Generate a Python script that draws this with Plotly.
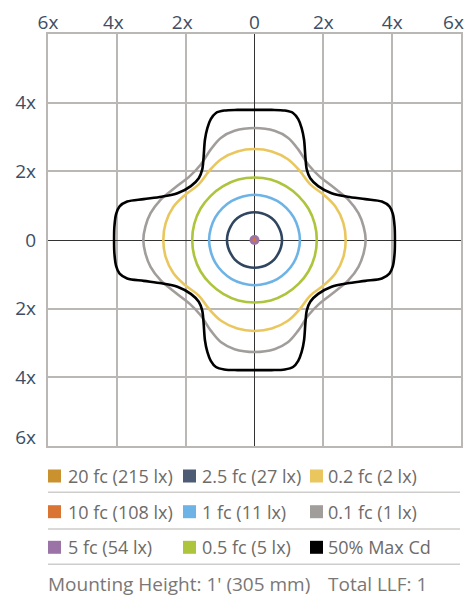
import plotly.graph_objects as go

# ---- Data (upper-right quadrant of each isofootcandle contour, in mounting heights) ----
black_x = [0.0, 0.5, 0.88, 1.12, 1.27, 1.37, 1.44, 1.48, 1.52, 1.62, 1.85, 2.24, 2.7, 3.22, 3.7, 3.92, 4.02, 4.07, 4.08]
black_y = [3.79, 3.79, 3.77, 3.70, 3.52, 3.26, 2.92, 2.40, 2.05, 1.80, 1.57, 1.36, 1.26, 1.19, 1.12, 0.98, 0.76, 0.40, 0.0]

gray_x = [0.0, 0.58, 0.97, 1.27, 1.56, 1.88, 2.34, 2.73, 3.02, 3.17, 3.23]
gray_y = [3.26, 3.18, 2.98, 2.64, 2.20, 1.86, 1.50, 1.17, 0.78, 0.39, 0.0]

yellow_x = [0.0, 0.50, 0.96, 1.31, 1.62, 2.02, 2.36, 2.58, 2.65]
yellow_y = [2.65, 2.58, 2.36, 2.02, 1.62, 1.31, 0.96, 0.50, 0.0]

green_x = [0.0, 0.47, 0.91, 1.28, 1.57, 1.75, 1.81]
green_y = [1.82, 1.76, 1.57, 1.28, 0.91, 0.47, 0.0]

blue_x = [0.0, 0.34, 0.66, 0.93, 1.14, 1.27, 1.32]
blue_y = [1.32, 1.27, 1.14, 0.93, 0.66, 0.34, 0.0]

navy_x = [0.0, 0.21, 0.4, 0.57, 0.69, 0.77, 0.8]
navy_y = [0.81, 0.78, 0.7, 0.57, 0.4, 0.21, 0.0]

legend_labels = ["20 fc (215 lx)", "2.5 fc (27 lx)", "0.2 fc (2 lx)",
                 "10 fc (108 lx)", "1 fc (11 lx)", "0.1 fc (1 lx)",
                 "5 fc (54 lx)", "0.5 fc (5 lx)", "50% Max Cd"]
legend_colors = ["#c9922e", "#4d5c74", "#eac75e",
                 "#d97433", "#6db3e6", "#a19d9b",
                 "#9c73a6", "#adc43d", "#000000"]

grid_vals = [-6, -4, -2, 0, 2, 4, 6]
x_label_pos = [-5.999, -4.1, -2.1, 0, 2, 4, 5.78]
x_ticktext = ["6x", "4x", "2x", "0", "2x", "4x", "6x"]
y_label_pos = [4, 2, 0, -2, -4, -5.74]
y_ticktext = ["4x", "2x", "0", "2x", "4x", "6x"]
footer_left = "Mounting Height: 1' (305 mm)"
footer_right = "Total LLF: 1"


def closed(qx, qy):
    """Mirror a first-quadrant contour (top -> right) into a closed loop."""
    xs = list(qx) + [v for v in reversed(qx)][1:] + [-v for v in qx][1:] + [-v for v in reversed(qx)][1:]
    ys = list(qy) + [-v for v in reversed(qy)][1:] + [-v for v in qy][1:] + [v for v in reversed(qy)][1:]
    return xs, ys


fig = go.Figure()
contours = [
    (gray_x, gray_y, "#a19d9b", 1.0),
    (yellow_x, yellow_y, "#eac75e", 1.1),
    (green_x, green_y, "#adc43d", 1.2),
    (blue_x, blue_y, "#6db3e6", 1.2),
    (navy_x, navy_y, "#2f4560", 1.2),
    (black_x, black_y, "#000000", 0.9),
]
for qx, qy, col, sm in contours:
    xs, ys = closed(qx, qy)
    fig.add_trace(go.Scatter(x=xs, y=ys, mode="lines",
                             line=dict(color=col, width=2.6, shape="spline", smoothing=sm),
                             showlegend=False, hoverinfo="skip"))

# center small contours
fig.add_trace(go.Scatter(x=[0], y=[0], mode="markers",
                         marker=dict(color="#9c73a6", size=10), showlegend=False, hoverinfo="skip"))
fig.add_trace(go.Scatter(x=[0], y=[0], mode="markers",
                         marker=dict(color="#d97433", size=4), showlegend=False, hoverinfo="skip"))
# invisible trace carrying the label axes
fig.add_trace(go.Scatter(x=[0], y=[0], xaxis="x2", yaxis="y2", mode="markers",
                         marker=dict(opacity=0), showlegend=False, hoverinfo="skip"))

W, H = 469, 600
L, R, T, B = 48, 8, 34, 154
pw, ph = W - L - R, H - T - B


def px(xp):
    return (xp - L) / pw


def py(yp):
    return (H - B - yp) / ph


grid_col = "#bab7b5"
axis_font = dict(family="Open Sans", size=19, color="#3e4e64")

fig.update_layout(
    width=W, height=H,
    margin=dict(l=L, r=R, t=T, b=B, autoexpand=False),
    paper_bgcolor="white", plot_bgcolor="white",
    showlegend=False,
    xaxis=dict(range=[-6, 6], tickvals=grid_vals, showticklabels=False,
               showgrid=True, gridcolor=grid_col, gridwidth=1.5,
               zeroline=True, zerolinecolor="#333333", zerolinewidth=1,
               showline=True, mirror=True, linecolor=grid_col, linewidth=1.5,
               ticks="", automargin=False, fixedrange=True),
    yaxis=dict(range=[-6, 6], tickvals=grid_vals, showticklabels=False,
               showgrid=True, gridcolor=grid_col, gridwidth=1.5,
               zeroline=True, zerolinecolor="#333333", zerolinewidth=1,
               showline=True, mirror=True, linecolor=grid_col, linewidth=1.5,
               ticks="", automargin=False, fixedrange=True),
    xaxis2=dict(range=[-6, 6], overlaying="x", side="top", anchor="y",
                tickvals=x_label_pos, ticktext=x_ticktext, showgrid=False,
                zeroline=False, showline=False, ticks="", tickfont=axis_font,
                automargin=False, fixedrange=True),
    yaxis2=dict(range=[-6, 6], overlaying="y", side="left", anchor="x",
                tickvals=y_label_pos, ticktext=y_ticktext, showgrid=False,
                zeroline=False, showline=False, ticks="", tickfont=axis_font,
                ticklabelstandoff=11, automargin=False, fixedrange=True),
)

# legend built from shapes + annotations
col_sq = [48, 183, 310]
col_tx = [68, 202, 328]
row_cy = [476, 511.7, 547.3]
shapes = []
annotations = []
for i, (lab, col) in enumerate(zip(legend_labels, legend_colors)):
    r, c = divmod(i, 3)
    cy = row_cy[r]
    shapes.append(dict(type="rect", xref="paper", yref="paper",
                       x0=px(col_sq[c]), x1=px(col_sq[c] + 13),
                       y0=py(cy + 6.5), y1=py(cy - 6.5),
                       fillcolor=col, line=dict(width=0)))
    annotations.append(dict(text=lab, xref="paper", yref="paper",
                            x=px(col_tx[c] - 2), y=py(cy), xanchor="left", yanchor="middle",
                            showarrow=False, font=dict(family="Open Sans", size=18, color="#6e6b68")))
for sy in [492.3, 529, 564.3]:
    shapes.append(dict(type="line", xref="paper", yref="paper",
                       x0=px(48), x1=px(460), y0=py(sy), y1=py(sy),
                       line=dict(color="#cfcdcb", width=1.5)))
annotations.append(dict(text=footer_left, xref="paper", yref="paper", x=px(46), y=py(584),
                        xanchor="left", yanchor="middle", showarrow=False,
                        font=dict(family="Open Sans", size=19, color="#7a7775")))
annotations.append(dict(text=footer_right, xref="paper", yref="paper", x=px(326), y=py(584),
                        xanchor="left", yanchor="middle", showarrow=False,
                        font=dict(family="Open Sans", size=19, color="#7a7775")))
fig.update_layout(shapes=shapes, annotations=annotations)

fig.write_html("out.html", config={"displayModeBar": False},
               post_script="document.body.style.margin='0';document.body.style.overflow='hidden';")
